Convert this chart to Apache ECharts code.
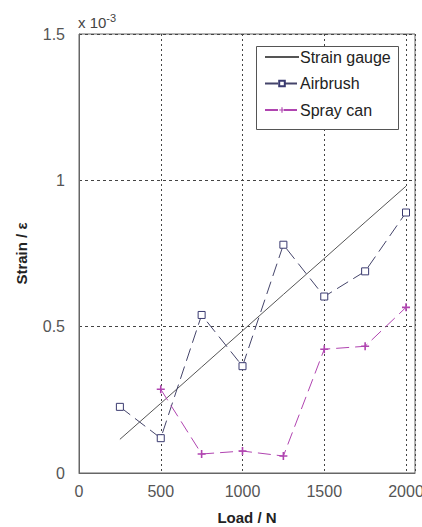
<!DOCTYPE html>
<html>
<head>
    <meta charset="utf-8">
    <script src="https://cdn.jsdelivr.net/npm/echarts@6/dist/echarts.min.js"></script>
    <style>
        html, body { margin: 0; padding: 0; background: #fff; }
        #chart { width: 422px; height: 527px; }
    </style>
</head>
<body>
    <div id="chart"></div>
    <script>
        // strain values in units of 1e-3
        var loads = [250, 500, 750, 1000, 1250, 1500, 1750, 2000];
        var strainGauge = [0.115, 0.238, 0.362, 0.486, 0.610, 0.733, 0.857, 0.98];
        var airbrush = [0.226, 0.119, 0.54, 0.365, 0.78, 0.603, 0.689, 0.89];
        var sprayLoads = [500, 750, 1000, 1250, 1500, 1750, 2000];
        var sprayCan = [0.286, 0.065, 0.075, 0.058, 0.423, 0.433, 0.566];

        function pairs(xs, ys) {
            return xs.map(function (x, i) { return [x, ys[i]]; });
        }

        var plus = 'path://M4,0H6V4H10V6H6V10H4V6H0V4H4Z';
        var font = 'Liberation Sans, Arial, sans-serif';

        var chart = echarts.init(document.getElementById('chart'), null, { renderer: 'svg' });
        var option = {
            animation: false,
            textStyle: { fontFamily: font },
            grid: {
                left: 79, top: 34, right: 7, bottom: 54,
                containLabel: false,
                outerBoundsMode: 'none',
                show: true, borderColor: '#666', borderWidth: 1
            },
            legend: {
                orient: 'vertical',
                left: 264, top: 49,
                padding: 0,
                z: 10,
                itemWidth: 34, itemHeight: 7, itemGap: 10.5,
                textStyle: { fontSize: 16, color: '#222', fontFamily: font, padding: [0, 0, 0, -4] },
                data: [
                    { name: 'Strain gauge', itemStyle: { opacity: 0 } },
                    'Airbrush',
                    'Spray can'
                ]
            },
            xAxis: {
                type: 'value',
                min: 0, max: 2055, interval: 500,
                name: 'Load / N',
                nameLocation: 'middle',
                nameGap: 37,
                nameTextStyle: { fontSize: 15, fontWeight: 'bold', color: '#222' },
                axisLine: { show: true, lineStyle: { color: '#666' } },
                axisTick: { show: false },
                axisLabel: {
                    fontSize: 16, color: '#555', margin: 10, showMaxLabel: false,
                    formatter: function (v) { return String(v); }
                },
                splitLine: { show: true, lineStyle: { type: [2, 3], color: '#444' } }
            },
            yAxis: {
                type: 'value',
                min: 0, max: 1.5, interval: 0.5,
                name: 'Strain / \u03b5',
                nameLocation: 'middle',
                nameGap: 50,
                nameTextStyle: { fontSize: 15, fontWeight: 'bold', color: '#222' },
                axisLine: { show: true, lineStyle: { color: '#666' } },
                axisTick: { show: false },
                axisLabel: { fontSize: 16, color: '#555', margin: 14 },
                splitLine: { show: true, lineStyle: { type: [3, 3], color: '#444' } }
            },
            graphic: [
                {
                    type: 'rect',
                    z: 3,
                    shape: { x: 256.5, y: 46.5, width: 142, height: 83 },
                    style: { fill: '#fff', stroke: '#555', lineWidth: 1 }
                },
                {
                    type: 'text',
                    left: 78, top: 12,
                    style: {
                        text: 'x 10{s|-3}',
                        fontSize: 15,
                        fill: '#444',
                        fontFamily: font,
                        rich: { s: { fontSize: 11, verticalAlign: 'top', padding: [0, 0, 9, 0] } }
                    }
                }
            ],
            series: [
                {
                    name: 'Strain gauge',
                    type: 'line',
                    data: pairs(loads, strainGauge),
                    showSymbol: false,
                    symbol: 'none',
                    lineStyle: { color: '#555', width: 1 },
                    itemStyle: { color: '#555' }
                },
                {
                    name: 'Airbrush',
                    type: 'line',
                    data: pairs(loads, airbrush),
                    symbol: 'rect',
                    symbolSize: 7,
                    lineStyle: { color: '#44446a', width: 1, type: [13, 6] },
                    itemStyle: { color: '#fff', borderColor: '#3a3a70', borderWidth: 1 }
                },
                {
                    name: 'Spray can',
                    type: 'line',
                    data: pairs(sprayLoads, sprayCan),
                    symbol: plus,
                    symbolSize: 8,
                    lineStyle: { color: '#b044b0', width: 1, type: [13, 6] },
                    itemStyle: { color: '#b044b0' }
                }
            ]
        };
        chart.setOption(option);
    </script>
</body>
</html>
